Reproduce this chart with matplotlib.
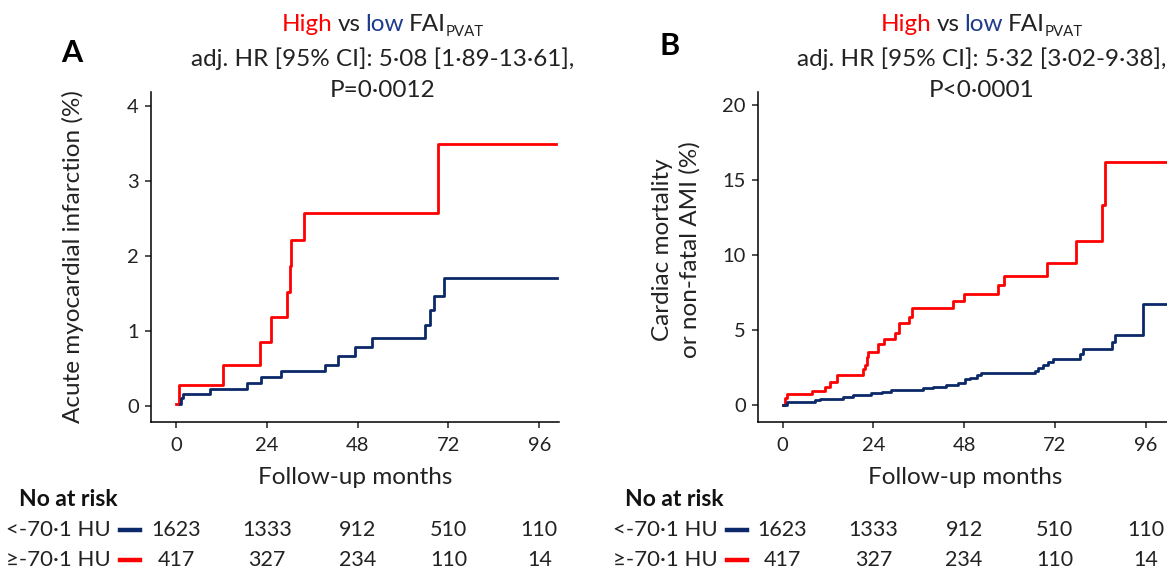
# -*- coding: utf-8 -*-
"""Kaplan-Meier style cumulative incidence, high vs low FAI (panels A / B)."""

import matplotlib
matplotlib.use("Agg")
import matplotlib.pyplot as plt
import matplotlib.transforms as mtransforms
from matplotlib.lines import Line2D

plt.rcParams["font.family"] = ["Lato", "DejaVu Sans"]

W, H = 1167, 573
RED = "#ff0000"
BLUE = "#0b2868"
BLUE_TXT = "#1f3c8c"

# ---- data ------------------------------------------------------------------
months_ticks = [0, 24, 48, 72, 96]

# panel A: acute myocardial infarction (%)
a_high_t = [0, 0.9, 12.3, 22.2, 25.0, 29.3, 30.1, 30.5, 33.8, 69.3, 100.5]
a_high_y = [0.03, 0.28, 0.55, 0.85, 1.18, 1.52, 1.86, 2.21, 2.57, 3.50, 3.50]
a_low_t = [1.0, 1.3, 1.9, 9.0, 18.7, 22.5, 27.7, 39.5, 42.7, 47.2, 51.7,
           65.8, 67.0, 68.3, 70.9, 100.6]
a_low_y = [0.03, 0.10, 0.16, 0.22, 0.30, 0.38, 0.46, 0.55, 0.66, 0.78, 0.90,
           1.08, 1.28, 1.47, 1.70, 1.70]

# panel B: cardiac mortality or non-fatal AMI (%)
b_high_t = [0, 0.6, 1.2, 7.9, 11.2, 12.5, 14.5, 21.3, 21.8, 22.2, 22.6, 25.3,
            26.9, 29.7, 30.8, 33.5, 34.3, 45.1, 48.0, 57.0, 58.5, 70.0, 77.5,
            84.6, 85.4, 103]
b_high_y = [0, 0.45, 0.71, 0.96, 1.22, 1.51, 2.0, 2.38, 2.67, 3.22, 3.51, 4.11,
            4.44, 4.82, 5.49, 5.89, 6.51, 6.96, 7.44, 8.0, 8.6, 9.5, 10.93,
            13.33, 16.22, 16.22]
b_low_t = [0, 1.2, 8.5, 9.9, 16.0, 18.7, 23.5, 26.2, 28.8, 37.2, 39.8, 43.3,
           46.4, 48.2, 49.5, 51.3, 52.6, 66.7, 67.5, 68.8, 70.2, 71.5, 78.6,
           79.4, 87.0, 87.9, 95.3, 103]
b_low_y = [0, 0.22, 0.33, 0.40, 0.51, 0.64, 0.78, 0.89, 1.0, 1.11, 1.22, 1.33,
           1.49, 1.71, 1.84, 2.0, 2.13, 2.3, 2.5, 2.7, 2.9, 3.1, 3.4, 3.73,
           4.2, 4.7, 6.73, 6.73]

risk_low = [1623, 1333, 912, 510, 110]
risk_high = [417, 327, 234, 110, 14]
row_labels = ["<-70·1 HU", "≥-70·1 HU"]

titles = {
    "A": ("adj. HR [95% CI]: 5·08 [1·89-13·61],", "P=0·0012"),
    "B": ("adj. HR [95% CI]: 5·32 [3·02-9·38],", "P<0·0001"),
}
ylabels = {
    "A": "Acute myocardial infarction (%)",
    "B": "Cardiac mortality\nor non-fatal AMI (%)",
}


def fx(px):
    return px / W


def fy(py):
    return 1 - py / H


fig = plt.figure(figsize=(W / 100, H / 100), dpi=100)


def style_axes(ax, yticks):
    for s in ("top", "right"):
        ax.spines[s].set_visible(False)
    for s in ("left", "bottom"):
        ax.spines[s].set_linewidth(1.1)
    ax.set_xticks(months_ticks)
    ax.set_yticks(yticks)
    ax.tick_params(axis="both", direction="out", length=4.3, width=1.1,
                   labelsize=14.5, colors="#222222")
    ax.tick_params(axis="x", pad=6.5)
    ax.tick_params(axis="y", pad=4.5)


def title_lines(xc, lines):
    """3-line title, first one coloured word by word with a subscript."""
    size = 17.5
    renderer = fig.canvas.get_renderer()
    space = size * 100 / 72 * 0.2
    parts = [("High", RED, size, 0), ("vs", "#222222", size, 0),
             ("low", BLUE_TXT, size, 0), ("FAI", "#222222", size, 0),
             ("PVAT", "#222222", size * 0.62, 5)]
    objs, widths = [], []
    for s, c, fs, dy in parts:
        t = fig.text(0, 0, s, color=c, fontsize=fs, va="baseline")
        objs.append((t, dy))
        widths.append(t.get_window_extent(renderer).width)
    gaps = [space, space, space, 0, 0]
    total = sum(widths) + sum(gaps[:-1])
    x = xc - total / 2
    for (t, dy), w, g in zip(objs, widths, gaps):
        t.set_position((fx(x), fy(31 + dy)))
        x += w + g
    fig.text(fx(xc), fy(66), lines[0], fontsize=size, ha="center",
             va="baseline", color="#222222")
    fig.text(fx(xc), fy(97), lines[1], fontsize=size, ha="center",
             va="baseline", color="#222222")


def risk_table(ax, x_head, x_lab_right, dash, row_y):
    fig.text(fx(x_head), fy(500), "No at risk", fontsize=16.5,
             fontweight="bold", va="center", color="#111111")
    trans = mtransforms.blended_transform_factory(ax.transData, fig.transFigure)
    for lab, vals, col, y in zip(row_labels, (risk_low, risk_high),
                                 (BLUE, RED), row_y):
        fig.text(fx(x_lab_right), fy(y), lab, fontsize=16, ha="right",
                 va="center", color="#222222")
        fig.add_artist(Line2D([fx(dash[0]), fx(dash[1])], [fy(y), fy(y)],
                              transform=fig.transFigure, color=col, lw=3.2))
        for m, v in zip(months_ticks, vals):
            ax.text(m, fy(y), str(v), transform=trans, fontsize=15.5,
                    ha="center", va="center", color="#222222")


# ---- panel A ---------------------------------------------------------------
axA = fig.add_axes([fx(151), fy(422), 408 / W, 330 / H])
axA.step(a_high_t, a_high_y, where="post", color=RED, lw=2.0)
axA.step(a_low_t, a_low_y, where="post", color=BLUE, lw=2.0)
axA.set_xlim(-6.6, 101.2)
axA.set_ylim(-0.217, 4.19)
style_axes(axA, [0, 1, 2, 3, 4])

# ---- panel B ---------------------------------------------------------------
axB = fig.add_axes([fx(758), fy(422), 414 / W, 330 / H])
axB.step(b_high_t, b_high_y, where="post", color=RED, lw=2.0)
axB.step(b_low_t, b_low_y, where="post", color=BLUE, lw=2.0)
axB.set_xlim(-6.5, 103)
axB.set_ylim(-1.13, 20.9)
style_axes(axB, [0, 5, 10, 15, 20])

# ---- labels ------------------------------------------------------------------
fig.text(fx(61), fy(62), "A", fontsize=22, fontweight="bold", va="baseline")
fig.text(fx(660), fy(55), "B", fontsize=22, fontweight="bold", va="baseline")

title_lines(383, titles["A"])
title_lines(982, titles["B"])

fig.text(fx(73), fy(257), ylabels["A"], fontsize=17.5, rotation=90,
         ha="center", va="center", color="#222222")
fig.text(fx(676), fy(250), ylabels["B"], fontsize=17.5, rotation=90,
         ha="center", va="center", multialignment="center", linespacing=1.35,
         color="#222222")

for ax in (axA, axB):
    ax.set_xlabel("Follow-up months", fontsize=17.5, color="#222222")
    ax.xaxis.set_label_coords(0.5, (422 - 478) / 330)
    ax.xaxis.label.set_va("center")

risk_table(axA, 19, 111, (120, 140), (530, 560))
risk_table(axB, 625, 718, (727, 747), (530, 560))

fig.savefig("out.png", dpi=100)
